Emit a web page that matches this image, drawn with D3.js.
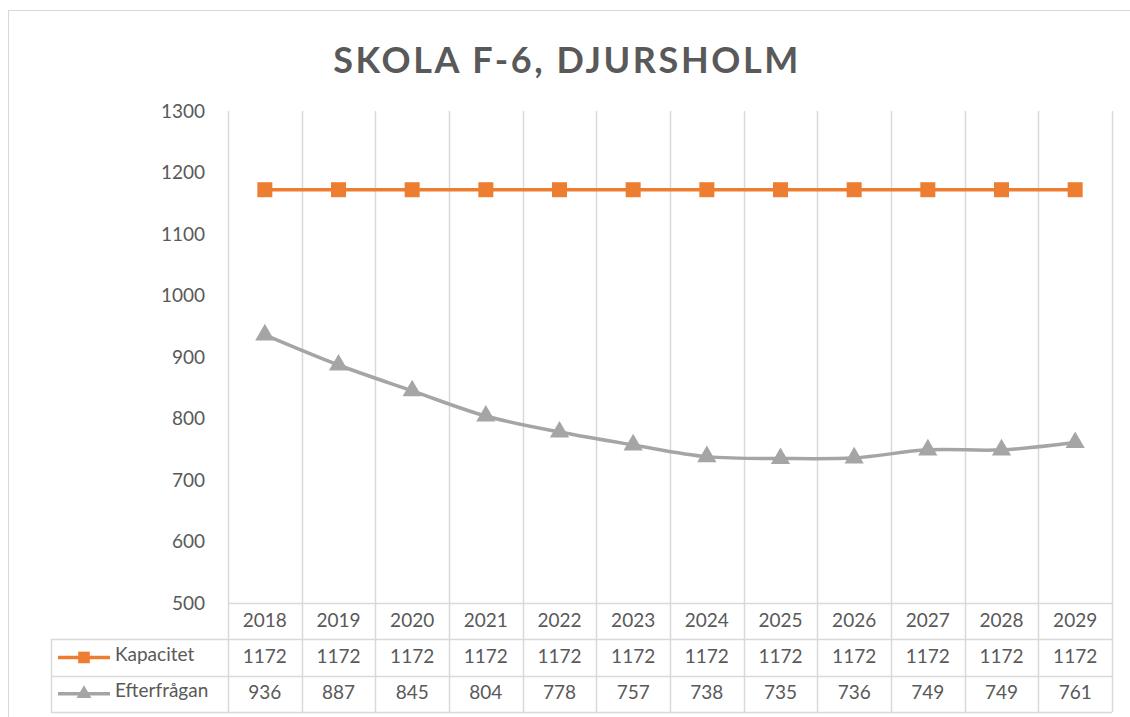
<!DOCTYPE html>
<html>
<head>
<meta charset="utf-8">
<script src="https://cdn.jsdelivr.net/npm/d3@7"></script>
<style>
  body { margin: 0; background: #fff; }
  text { font-family: Lato, "Open Sans", sans-serif; fill: #595959; }
</style>
</head>
<body>
<div class="chart"></div>
<script>
// DATA
var years = ['2018', '2019', '2020', '2021', '2022', '2023', '2024', '2025', '2026', '2027', '2028', '2029']
var kapacitet = [1172, 1172, 1172, 1172, 1172, 1172, 1172, 1172, 1172, 1172, 1172, 1172]
var efterfragan = [936, 887, 845, 804, 778, 757, 738, 735, 736, 749, 749, 761]
var yTicks = [500, 600, 700, 800, 900, 1000, 1100, 1200, 1300]
var seriesNames = ['Kapacitet', 'Efterfrågan']
var title = 'SKOLA F-6, DJURSHOLM'

var W = 1130, H = 717
var gridColor = '#D9D9D9'
var orange = '#ED7D31', grey = '#A5A5A5'

var svg = d3.select('.chart').append('svg')
    .attr('width', W)
    .attr('height', H)

// OUTER CHART FRAME
svg.append('rect')
    .attr('x', 8.5).attr('y', 10.5)
    .attr('width', W + 20).attr('height', H + 20)
    .attr('fill', 'none')
    .attr('stroke', gridColor)

// TITLE
svg.append('text')
    .attr('x', 567).attr('y', 73)
    .attr('text-anchor', 'middle')
    .style('font-size', '36px')
    .style('font-weight', 'bold')
    .style('letter-spacing', '2.6px')
    .text(title)

// LAYOUT
var plotLeft = 228, plotRight = 1112, plotTop = 111, plotBottom = 603
var rowH = 36.3
var legendLeft = 51

var x = d3.scaleBand().domain(years).range([plotLeft, plotRight])
var y = d3.scaleLinear().domain([500, 1300]).range([plotBottom, plotTop])

// Y AXIS LABELS (NO LINE, NO TICKS)
var yAxis = svg.append('g')
    .attr('transform', 'translate(' + 205 + ',0)')
    .call(d3.axisLeft(y).tickValues(yTicks).tickFormat(d3.format('d')).tickSize(0).tickPadding(0))
yAxis.select('.domain').remove()
yAxis.selectAll('text')
    .attr('fill', '#595959')
    .style('font-family', 'Lato, sans-serif')
    .style('font-size', '19px')

// VERTICAL GRIDLINES, THROUGH THE DATA TABLE
var tableBottom = plotBottom + rowH * 3
var edges = years.map(function(d) { return x(d) }).concat([plotRight])
svg.append('g').selectAll('line')
    .data(edges)
    .enter().append('line')
    .attr('x1', function(d) { return Math.round(d) + 0.5 })
    .attr('x2', function(d) { return Math.round(d) + 0.5 })
    .attr('y1', plotTop)
    .attr('y2', tableBottom)
    .attr('stroke', gridColor)
    .attr('stroke-width', 1.5)

// TABLE HORIZONTAL LINES
var hLines = [
    {x1: plotLeft, y: plotBottom},
    {x1: legendLeft, y: plotBottom + rowH},
    {x1: legendLeft, y: plotBottom + rowH * 2},
    {x1: legendLeft, y: tableBottom}
]
svg.append('g').selectAll('line')
    .data(hLines)
    .enter().append('line')
    .attr('x1', function(d) { return d.x1 })
    .attr('x2', plotRight)
    .attr('y1', function(d) { return Math.round(d.y) + 0.5 })
    .attr('y2', function(d) { return Math.round(d.y) + 0.5 })
    .attr('stroke', gridColor)
    .attr('stroke-width', 1.5)
svg.append('line')
    .attr('x1', legendLeft + 0.5).attr('x2', legendLeft + 0.5)
    .attr('y1', plotBottom + rowH).attr('y2', tableBottom)
    .attr('stroke', gridColor)
    .attr('stroke-width', 1.5)

// TABLE TEXT
var rows = [years, kapacitet, efterfragan]
rows.forEach(function(r, i) {
    svg.append('g').selectAll('text')
        .data(r)
        .enter().append('text')
        .attr('x', function(d, j) { return x(years[j]) + x.bandwidth() / 2 })
        .attr('y', plotBottom + rowH * i + rowH / 2 - 1)
        .attr('dy', '0.35em')
        .attr('text-anchor', 'middle')
        .style('font-size', '19px')
        .text(function(d) { return d })
})

// SERIES
var series = [
    {name: seriesNames[0], values: kapacitet, color: orange, marker: d3.symbolSquare, size: 225, curve: d3.curveLinear},
    {name: seriesNames[1], values: efterfragan, color: grey, marker: d3.symbolTriangle, size: 160, curve: d3.curveCatmullRom}
]

series.forEach(function(s, i) {
    var line = d3.line()
        .x(function(d, j) { return x(years[j]) + x.bandwidth() / 2 })
        .y(function(d) { return y(d) })
        .curve(s.curve)

    svg.append('path')
        .datum(s.values)
        .attr('d', line)
        .attr('fill', 'none')
        .attr('stroke', s.color)
        .attr('stroke-width', 3.5)

    svg.append('g').selectAll('path')
        .data(s.values)
        .enter().append('path')
        .attr('d', d3.symbol().type(s.marker).size(s.size))
        .attr('transform', function(d, j) {
            return 'translate(' + (x(years[j]) + x.bandwidth() / 2) + ',' + y(d) + ')'
        })
        .attr('fill', s.color)

    // LEGEND KEY IN TABLE
    var ly = plotBottom + rowH * (i + 1) + rowH / 2
    svg.append('line')
        .attr('x1', 58).attr('x2', 110)
        .attr('y1', ly).attr('y2', ly)
        .attr('stroke', s.color)
        .attr('stroke-width', 3.5)
    svg.append('path')
        .attr('d', d3.symbol().type(s.marker).size(s.size * 0.6))
        .attr('transform', 'translate(84,' + ly + ')')
        .attr('fill', s.color)
    svg.append('text')
        .attr('x', 115).attr('y', ly - 3)
        .attr('dy', '0.35em')
        .style('font-size', '19px')
        .text(s.name)
})
</script>
</body>
</html>
